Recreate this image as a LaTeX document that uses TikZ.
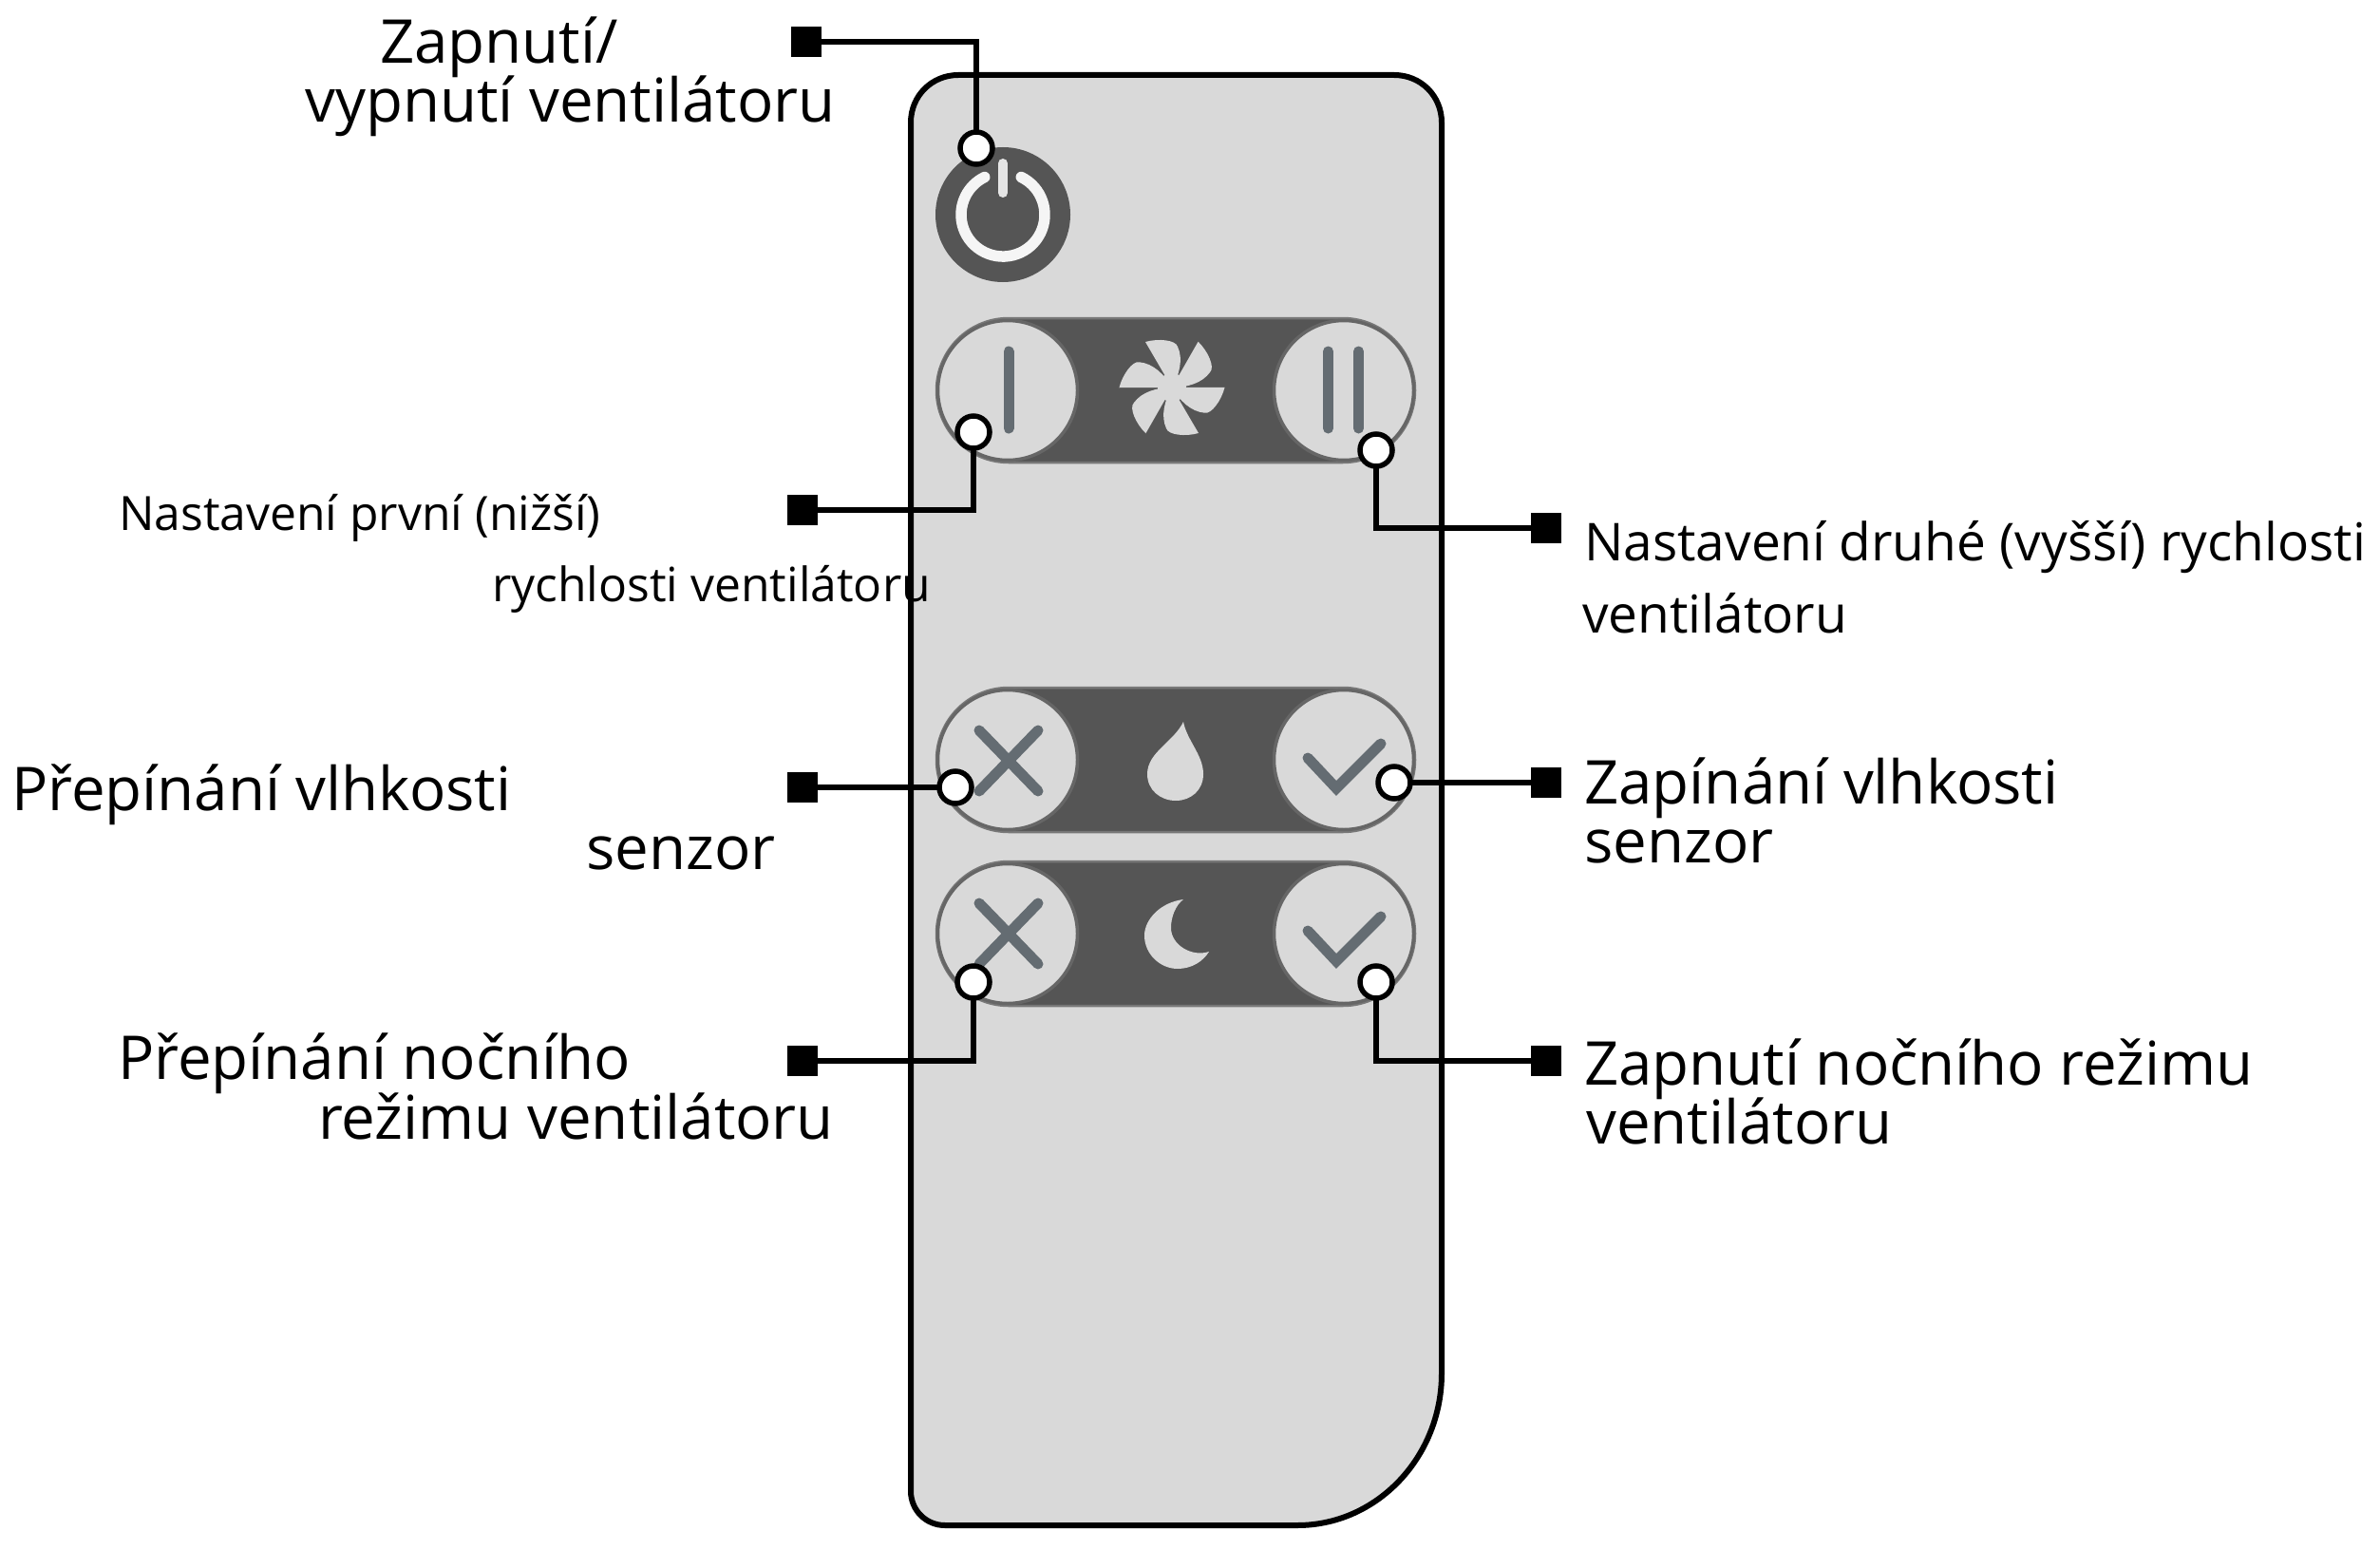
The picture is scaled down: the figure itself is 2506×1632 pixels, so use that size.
\documentclass[tikz,border=0pt]{standalone}
\usepackage{fontspec}
\setmainfont{Open Sans}
\definecolor{bodygray}{HTML}{D9D9D9}
\definecolor{darkpanel}{HTML}{555555}
\definecolor{iconslate}{HTML}{646C72}
\tikzset{
  x=1pt,y=-1pt,
  bigtext/.style={anchor=base west,inner sep=0pt,font=\fontsize{63.6}{64}\selectfont},
  smalltext/.style={anchor=base west,inner sep=0pt,font=\fontsize{49.8}{50}\selectfont},
  midtext/.style={anchor=base west,inner sep=0pt,font=\fontsize{55}{55}\selectfont},
  marker/.style={draw=none,fill=black,minimum size=32pt,inner sep=0pt},
  dot/.style={circle,draw=black,line width=5.5pt,fill=white,minimum size=34pt,inner sep=0pt},
  link/.style={draw=black,line width=5.5pt},
  panel/.style={fill=darkpanel,draw=darkpanel!80!white,line width=2.5pt,rounded corners=76pt},
  btn/.style={fill=bodygray,draw=darkpanel!90!white,line width=3.5pt},
  glyph/.style={draw=iconslate,line width=11pt,line cap=round,line join=miter},
  tick/.style={draw=iconslate,line width=11pt,line cap=round},
}
\begin{document}
\begin{tikzpicture}
\useasboundingbox (0,0) rectangle (2506,1632);
% body
\draw[fill=bodygray,draw=black,line width=6pt]
  (1009,79) -- (1468,79) .. controls (1496,79) and (1518,101) .. (1518,129)
  -- (1518,1446) .. controls (1518,1534) and (1450,1606) .. (1366,1606)
  -- (995,1606) .. controls (975,1606) and (959,1590) .. (959,1570)
  -- (959,129) .. controls (959,101) and (981,79) .. (1009,79) -- cycle;
% power button
\fill[darkpanel] (1056,226) circle[radius=71pt];
\draw[white!96!black,line width=11.5pt,line cap=round] (1075.3,186.5) arc[start angle=64,end angle=-244,radius=44pt];
\draw[white!90!black,line width=10pt,line cap=round] (1056,172) -- (1056,203);
% panels
\foreach \yc in {411,800,983}{
  \draw[panel] (986,\yc-76) rectangle (1490,\yc+76);
  \draw[btn] (1061,\yc) circle[radius=73.5pt];
  \draw[btn] (1415,\yc) circle[radius=73.5pt];
}
% speed bars
\draw[tick] (1062,370) -- (1062,451);
\draw[tick] (1398.5,370) -- (1398.5,451);
\draw[tick] (1430.5,370) -- (1430.5,451);
% fan
\foreach \a in {0,-60,-120,-180,-240,-300}{
  \begin{scope}[shift={(1234,408)},rotate=\a]
    \fill[bodygray] (0,0) -- (-28,-48) .. controls (-14,-52) and (4,-50) .. (6,-43) .. controls (12,-30) and (8,-14) .. (0,0) -- cycle;
  \end{scope}
}
\fill[bodygray] (1234,408) circle[radius=15pt];
% crosses and checks
\foreach \yc in {801,983}{
  \draw[glyph] (1031,\yc-32) -- (1093,\yc+32);
  \draw[glyph] (1093,\yc-32) -- (1031,\yc+32);
}
\foreach \d in {0,182}{
  \draw[glyph] (1377,798+\d) -- (1407,830+\d) -- (1454,783+\d);
}
% drop
\fill[bodygray] (1246,760) .. controls (1236,781) and (1208,792) .. (1208,815)
  .. controls (1208,832) and (1222,843) .. (1238,843)
  .. controls (1254,843) and (1267,832) .. (1267,815)
  .. controls (1267,795) and (1250,780) .. (1246,760) -- cycle;
% moon
\fill[bodygray] (1246,947) .. controls (1222,950) and (1205,968) .. (1205,985)
  .. controls (1205,1005) and (1222,1020) .. (1240,1020)
  .. controls (1255,1020) and (1267,1012) .. (1273,1002)
  .. controls (1255,1008) and (1233,995) .. (1233,977)
  .. controls (1233,965) and (1238,953) .. (1246,947) -- cycle;
% markers and dots
\node[marker] (s1) at (849,44) {};
\node[marker] (s2) at (845,537) {};
\node[marker] (s3) at (1628,556) {};
\node[marker] (s4) at (845,829) {};
\node[marker] (s5) at (1628,824) {};
\node[marker] (s6) at (845,1117) {};
\node[marker] (s7) at (1628,1117) {};
\coordinate (c1) at (1028,156);
\coordinate (c2) at (1025,455);
\coordinate (c3) at (1449,474);
\coordinate (c4) at (1006,829);
\coordinate (c5) at (1468,824);
\coordinate (c6) at (1025,1034);
\coordinate (c7) at (1449,1034);
\draw[link] (s1) -| (c1);
\draw[link] (s2) -| (c2);
\draw[link] (s3) -| (c3);
\draw[link] (s4) -- (c4);
\draw[link] (s5) -- (c5);
\draw[link] (s6) -| (c6);
\draw[link] (s7) -| (c7);
\node[dot] (d1) at (c1) {};
\node[dot] (d2) at (c2) {};
\node[dot] (d3) at (c3) {};
\node[dot] (d4) at (c4) {};
\node[dot] (d5) at (c5) {};
\node[dot] (d6) at (c6) {};
\node[dot] (d7) at (c7) {};
% texts
\node[bigtext] (t1a) at (400,67) {Zapnutí/};
\node[bigtext] (t1b) at (321,129) {vypnutí ventilátoru};
\node[smalltext] (t2a) at (125,558) {Nastavení první (nižší)};
\node[smalltext] (t2b) at (518,633) {rychlosti ventilátoru};
\node[midtext] (t3a) at (1668,590) {Nastavení druhé (vyšší) rychlosti};
\node[midtext] (t3b) at (1666,666) {ventilátoru};
\node[bigtext] (t4a) at (12,853) {Přepínání vlhkosti};
\node[bigtext] (t4b) at (617,915) {senzor};
\node[bigtext] (t5a) at (1668,846) {Zapínání vlhkosti};
\node[bigtext] (t5b) at (1668,908) {senzor};
\node[bigtext] (t6a) at (124,1136) {Přepínání nočního};
\node[bigtext] (t6b) at (335,1199) {režimu ventilátoru};
\node[bigtext] (t7a) at (1668,1142) {Zapnutí nočního režimu};
\node[bigtext] (t7b) at (1670,1204) {ventilátoru};
\end{tikzpicture}
\end{document}
